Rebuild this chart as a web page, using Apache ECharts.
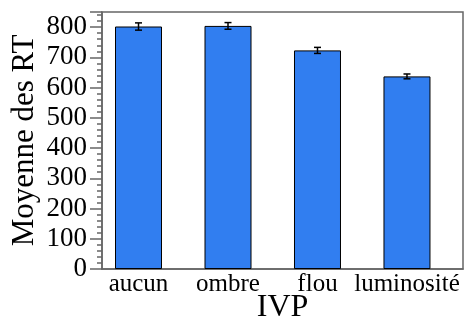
<!DOCTYPE html>
<html>
<head>
<meta charset="utf-8">
<script src="https://cdn.jsdelivr.net/npm/echarts@6/dist/echarts.min.js"></script>
<style>
  html, body { margin: 0; padding: 0; background: #fff; }
  #chart { width: 465px; height: 318px; }
</style>
</head>
<body>
<div id="chart"></div>
<script>
// catégories IVP et moyennes des RT (ms)
const categories = ['aucun', 'ombre', 'flou', 'luminosité'];
const means = [802, 804, 723, 637];
const errors = [12, 11, 10, 8];
const yTicks = [0, 100, 200, 300, 400, 500, 600, 700, 800];

const chart = echarts.init(document.getElementById('chart'));
const serif = '"Liberation Serif", "DejaVu Serif", serif';

chart.setOption({
    animation: false,
    grid: {
        left: 102, right: 2, top: 12, bottom: 49,
        containLabel: false,
        outerBoundsMode: 'none',
        show: true, borderColor: '#666', borderWidth: 1.5
    },
    xAxis: {
        type: 'value',
        min: -0.408,
        max: 3.626,
        splitLine: { show: false },
        axisLine: { onZero: false, lineStyle: { color: '#666', width: 1.5 } },
        axisTick: { show: false },
        axisLabel: {
            customValues: [0, 1, 2, 3],
            formatter: v => categories[Math.round(v)],
            color: '#000', fontFamily: serif, fontSize: 25, margin: 3
        },
        name: 'IVP',
        nameLocation: 'middle',
        nameGap: 23,
        nameMoveOverlap: false,
        nameTextStyle: { color: '#000', fontFamily: serif, fontSize: 32 }
    },
    yAxis: [{
        type: 'value',
        min: 0, max: 850, interval: 100,
        splitLine: { show: false },
        axisLine: { show: true, onZero: false, lineStyle: { color: '#666', width: 1.5 } },
        axisTick: { show: true, length: 12, lineStyle: { color: '#666', width: 1.5 } },
        axisLabel: {
            customValues: yTicks,
            color: '#000', fontFamily: serif, fontSize: 27, margin: 15
        },
        name: 'Moyenne des RT',
        nameLocation: 'middle',
        nameGap: 62,
        nameMoveOverlap: false,
        nameTextStyle: { color: '#000', fontFamily: serif, fontSize: 31 }
    }, {
        type: 'value',
        position: 'left',
        min: 0, max: 850, interval: 20,
        splitLine: { show: false },
        axisLine: { show: false, onZero: false },
        axisTick: { show: true, length: 5, lineStyle: { color: '#666', width: 1.5 } },
        axisLabel: { show: false }
    }],
    series: [{
        type: 'bar',
        barWidth: 47,
        data: means.map((m, i) => [i, m]),
        itemStyle: { color: '#317ef0', borderColor: '#000', borderWidth: 1 }
    }, {
        type: 'custom',
        data: means.map((m, i) => [i, m - errors[i], m + errors[i]]),
        renderItem: (params, api) => {
            const lo = api.coord([api.value(0), api.value(1)]);
            const hi = api.coord([api.value(0), api.value(2)]);
            const w = 3.5;
            const style = { stroke: '#000', lineWidth: 1.5 };
            return {
                type: 'group',
                children: [
                    { type: 'line', shape: { x1: lo[0], y1: lo[1], x2: hi[0], y2: hi[1] }, style },
                    { type: 'line', shape: { x1: lo[0] - w, y1: lo[1], x2: lo[0] + w, y2: lo[1] }, style },
                    { type: 'line', shape: { x1: hi[0] - w, y1: hi[1], x2: hi[0] + w, y2: hi[1] }, style }
                ]
            };
        },
        z: 5
    }]
});
</script>
</body>
</html>
